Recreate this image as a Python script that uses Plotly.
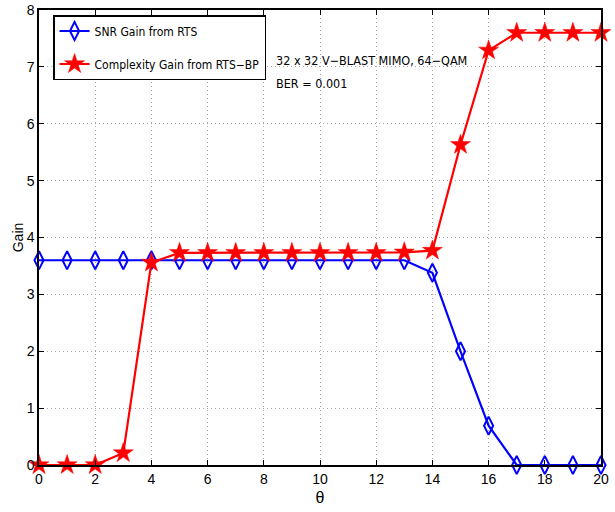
import plotly.graph_objects as go

theta = list(range(0, 21))
snr_gain = [3.6, 3.6, 3.6, 3.6, 3.6, 3.6, 3.6, 3.6, 3.6, 3.6, 3.6, 3.6, 3.6, 3.6,
            3.38, 2.0, 0.69, 0.0, 0.0, 0.0, 0.0]
complexity_gain = [0.0, 0.0, 0.0, 0.21, 3.56, 3.73, 3.73, 3.73, 3.73, 3.73, 3.73, 3.73, 3.73, 3.74,
                   3.77, 5.63, 7.29, 7.6, 7.6, 7.6, 7.6]
x_ticks = list(range(0, 21, 2))
y_ticks = list(range(0, 9))

FONT = "DejaVu Sans Condensed, Liberation Sans, Arial, sans-serif"
FONT2 = "Liberation Sans, Arial, sans-serif"

fig = go.Figure()
fig.add_trace(go.Scatter(
    x=theta, y=snr_gain, mode="lines+markers", name="SNR Gain from RTS",
    legendgroup="a",
    line=dict(color="#0000ff", width=2.2),
    marker=dict(symbol="diamond-tall-open", size=13, color="#0000ff",
                line=dict(width=2, color="#0000ff")),
    cliponaxis=False,
))
fig.add_trace(go.Scatter(
    x=theta, y=complexity_gain, mode="lines+markers", name="Complexity Gain from RTS\u2212BP",
    legendgroup="b",
    line=dict(color="#ff0000", width=2.2),
    marker=dict(symbol="star", size=15, color="#ff0000",
                line=dict(width=0.5, color="#ff0000")),
    cliponaxis=False,
))

axis_common = dict(
    showgrid=True, gridcolor="#a8a8a8", griddash="1px,3px", gridwidth=1,
    showline=True, linecolor="black", linewidth=1.5, mirror="allticks",
    ticks="inside", ticklen=5, tickcolor="black", zeroline=False,
    automargin=False,
    tickfont=dict(family=FONT2, size=14, color="black"),
)

fig.update_layout(
    width=615, height=512,
    margin=dict(l=39, r=14, t=10, b=47),
    paper_bgcolor="white", plot_bgcolor="white",
    showlegend=True,
    legend=dict(x=0.025, y=0.989, xanchor="left", yanchor="top",
                bgcolor="white", bordercolor="black", borderwidth=1.5,
                font=dict(family=FONT, size=12, color="black"),
                itemwidth=30, traceorder="grouped", tracegroupgap=14),
    xaxis=dict(range=[0, 20], tickvals=x_ticks, **axis_common,
               title=dict(text="\u03b8", font=dict(family=FONT2, size=16, color="black"), standoff=6)),
    yaxis=dict(range=[0, 8], tickvals=y_ticks, **axis_common,
               title=dict(text="Gain", font=dict(family=FONT2, size=14, color="black"), standoff=0)),
)
fig.add_annotation(x=8.36, y=7.12, xref="x", yref="y", xanchor="left", yanchor="middle",
                   text="32 x 32 V\u2212BLAST MIMO, 64\u2212QAM", showarrow=False,
                   font=dict(family=FONT, size=12.5, color="black"))
fig.add_annotation(x=8.36, y=6.70, xref="x", yref="y", xanchor="left", yanchor="middle",
                   text="BER = 0.001", showarrow=False,
                   font=dict(family=FONT, size=12.5, color="black"))

fig.write_html("out.html", config={"displayModeBar": False},
               post_script="document.body.style.margin='0';")
